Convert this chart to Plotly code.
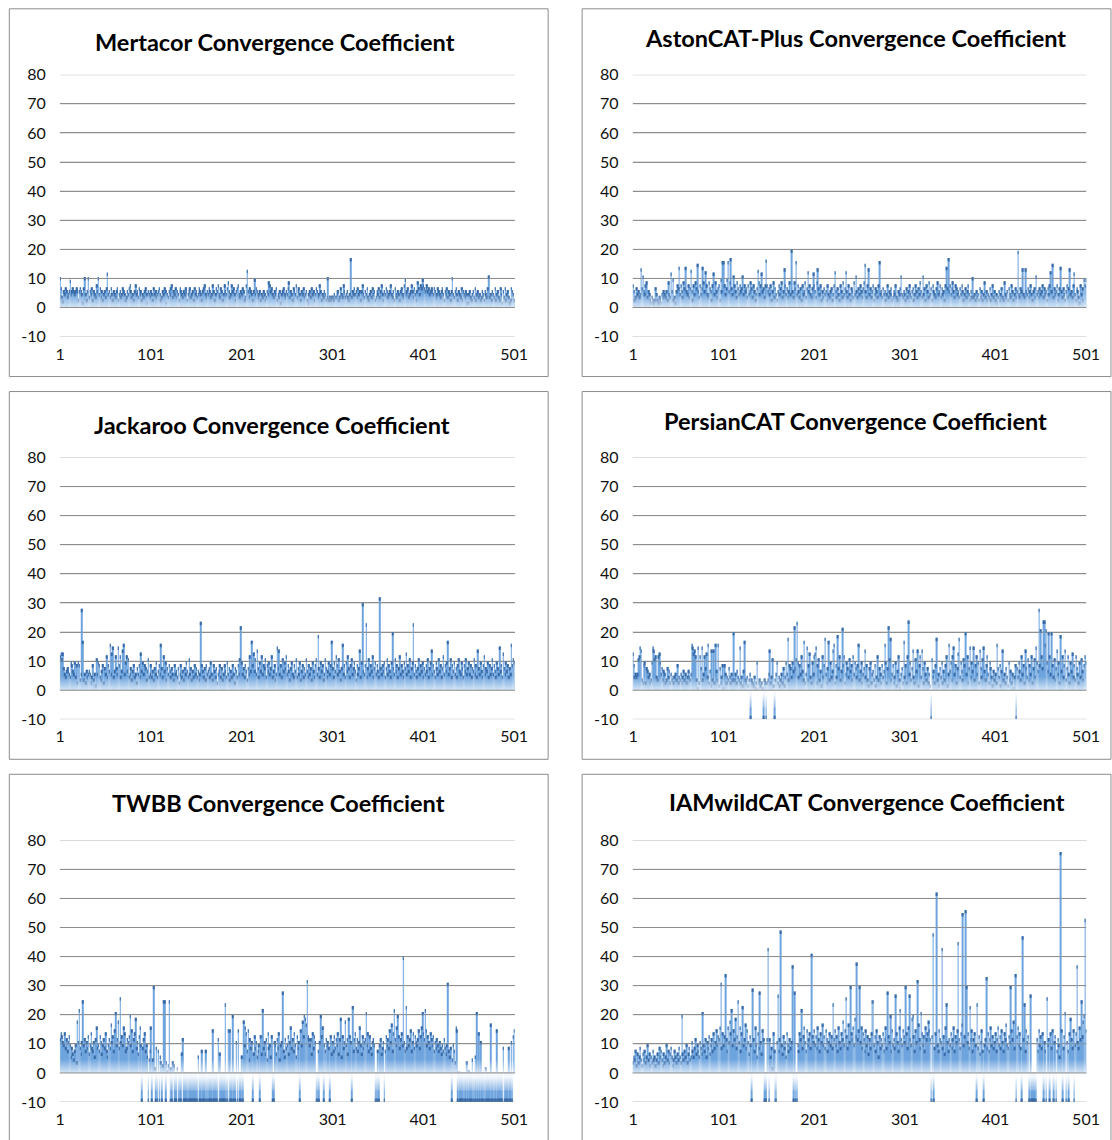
import plotly.graph_objects as go

W, H = 1112, 1140

x_tick_vals = [1, 101, 201, 301, 401, 501]
x_tick_text = ["1", "101", "201", "301", "401", "501"]
y_tick_vals = [-10, 0, 10, 20, 30, 40, 50, 60, 70, 80]
y_tick_text = ["-10", "0", "10", "20", "30", "40", "50", "60", "70", "80"]

iterations = list(range(1, 502))

titles = [
    "Mertacor Convergence Coefficient",
    "AstonCAT-Plus Convergence Coefficient",
    "Jackaroo Convergence Coefficient",
    "PersianCAT Convergence Coefficient",
    "TWBB Convergence Coefficient",
    "IAMwildCAT Convergence Coefficient",
]

mertacor = [
    10.5,7,4,2.5,6,5,7,6,4,5,6,9.5,5,6,7,6,5,6,7,6,3,6,7,6,5,
    2,7,10.5,5,3,6,10.5,4,6,5,7,3,6,5,4,8,6,10.5,5,7,4,6,3,5,6,
    4,7,12,5,6,4,7,5,3,6,5,4,6,7,3,5,6,4,5,7,6,5,3,4,6,
    5,7,8,6,4,5,3,6,8,5,6,4,7,5,6,3,5,4,6,7,5,2,6,5,4,
    6,5,3,7,5,6,4,5,6,7,5,3,4,6,5,7,6,2,5,4,6,5,7,8,4,
    6,5,7,4,6,5,3,7,6,5,4,6,5,7,6,3,5,6,7,4,5,6,3,7,5,
    6,4,5,7,6,5,3,6,7,8,5,4,6,5,7,6,4,5,8,6,3,5,7,6,8,
    5,4,7,6,3,5,8,6,5,7,9,6,4,5,8,6,7,5,3,6,7,8,5,4,6,
    5,7,6,3,4,8,13,6,4,7,6,5,3,6,10,5,7,6,4,5,6,3,5,4,6,
    5,3,4,6,5,9,8,6,7,5,4,6,5,7,3,5,4,6,2,5,6,7,5,4,6,
    5,7,9,4,6,5,3,7,6,5,8,4,6,7,5,3,6,5,7,4,5,6,3,2,5,
    6,4,7,5,6,3,5,7,6,4,5,8,6,3,5,4,6,5,3,4,10.5,3,4,3,4,
    4,3,5,4,4,5,6,3,4,7,5,4,8,6,4,5,6,4,3,5,17,4,6,5,7,
    5,6,4,7,5,6,3,6,8,5,4,6,5,7,4,3,5,6,4,7,5,6,3,4,6,
    5,7,4,6,8,5,3,6,5,7,6,4,5,6,8,5,4,6,3,7,5,4,6,5,3,
    6,7,5,4,8,10,5,6,7,4,5,6,8,6,4,7,5,3,6,9,7,5,8,7,10,
    8,7,6,7,8,6,7,5,6,7,6,5,7,6,4,5,7,6,5,4,6,7,5,3,6,
    5,7,4,6,5,3,6,10.5,5,4,6,7,5,3,6,5,4,7,3,6,5,4,6,5,2,
    5,6,4,3,5,6,4,7,3,5,6,4,5,3,4,6,5,3,6,5,4,7,11,4,5,
    3,6,5,4,7,3,5,6,4,3,7,5,2,6,4,7,3,5,6,4,2,3,7,6,5,
    3,
]

astoncat_plus = [
    8,6,3,4,7,5,6,4,5,13.5,7,11,6,5,8,9,4,6,5,3,2,4,3,2,3,
    7,5,3,2,4,3,2,5,4,6,5,4,6,3,9,5,4,12,6,10,3,4,2,6,8,
    7,14,5,8,6,4,9,7,14,6,5,8,4,7,13,6,3,8,5,9,7,15,6,4,8,
    5,7,14,9,6,12.5,8,5,4,9,7,6,3,8,12,5,9,6,4,7,8,3,10,6,16,
    16,8,5,7,10,16,6,9,17,7,5,11,8,6,4,9,7,5,8,6,7,11,5,8,6,
    7,4,8,5,6,9,7,4,8,6,3,5,7,13,9,5,8,12,6,7,4,8,16.5,8,6,
    7,5,8,3,6,9,4,7,5,3,6,8,5,7,9,4,6,13.5,8,5,7,4,6,9,5,
    20,6,4,9,7,16,5,8,6,4,7,3,8,5,6,9,4,7,12.5,6,8,5,4,7,12,
    8,6,4,9,13.5,7,5,8,3,6,4,7,5,6,3,8,5,4,6,7,3,5,8,12.5,6,
    4,7,5,3,8,6,4,9,5,7,12.5,6,4,8,5,3,7,6,4,9,5,11,6,4,7,
    5,8,6,4,7,9,15,6,4,8,13.5,5,7,4,6,8,3,5,7,6,4,8,16,5,6,
    4,7,5,6,3,5,8,4,6,5,7,3,4,6,5,8,4,3,6,5,7,11,5,4,6,
    5,3,7,4,6,8,5,4,6,7,3,5,8,6,4,7,5,9,6,4,11,5,7,3,8,
    6,4,9,5,7,3,8,6,5,4,7,9,5,6,8,4,7,5,6,3,8,14,7,17,6,
    8,5,7,9,6,4,8,7,5,6,4,7,5,8,6,3,5,7,4,6,8,5,3,6,4,
    10.5,4,5,3,6,4,5,3,7,4,6,3,5,9,4,6,3,5,4,7,3,5,8,4,6,
    3,5,2,4,6,3,5,7,4,3,9,5,4,6,3,7,5,4,8,6,3,5,7,4,6,
    19.5,5,4,7,6,13.5,5,4,13.5,6,5,7,4,6,8,5,3,6,7,4,11,5,6,4,7,
    5,6,8,4,7,5,6,3,7,5,8,12.5,6,15,4,7,5,6,8,3,5,7,14,6,4,
    7,5,3,6,8,4,7,13.5,5,6,4,8,12,5,3,7,6,4,2,8,5,7,3,10,8,
    10,
]

jackaroo = [
    12,13,11,13,8,6,5,7,8,7,6,5,10,9,7,6,10,5,9,3,10,9,4,6,28,
    17,4,6,3,7,5,6,7,6,3,5,9,4,6,2,11,6,10,9,5,4,7,9,3,8,
    6,12,5,9,7,16,6,13,15,5,7,12,8,6,15,9,12,5,7,14,16,6,10,12,7,
    11,5,6,8,4,7,9,5,6,3,8,6,9,5,13,7,10,6,9,8,4,7,11,5,6,
    9,5,7,4,8,6,10,5,7,9,6,16,8,5,12,7,10,4,8,6,9,7,5,8,6,
    4,9,6,7,5,8,3,6,9,5,7,4,8,6,10,7,5,11,6,8,4,7,5,9,6,
    8,5,7,4,6,23.5,9,7,5,8,4,9,6,7,8,5,10,6,4,9,7,5,8,3,6,
    7,9,5,8,4,6,9,7,5,10,6,8,4,7,5,9,6,3,8,7,5,9,6,11,22,
    10,6,8,5,9,7,4,8,6,12,7,17,9,13,7,11,6,14,8,5,10,7,12,6,9,
    8,11,5,9,7,10,6,8,12,5,7,9,4,6,15,8,14,6,9,5,11,7,10,8,12,
    6,9,7,4,8,10,6,5,9,7,11,5,8,6,10,4,7,9,5,8,6,11,7,5,9,
    6,8,4,10,7,5,9,11,6,19,8,5,10,7,9,4,6,11,8,5,7,10,6,9,17,
    8,5,10,7,12,9,6,11,7,4,8,16,6,9,5,10,7,12,8,5,9,11,6,8,10,
    7,4,9,6,8,14,5,10,30,7,6,9,23,5,8,11,6,9,7,12,5,8,10,6,9,
    7,5,32,8,6,9,7,10,5,8,11,6,9,7,5,10,20,8,6,11,7,9,5,8,12,
    6,9,7,5,10,8,13,6,9,7,11,5,8,10,23,6,9,7,5,8,11,6,9,7,10,
    5,8,6,9,7,11,5,8,10,14,6,9,7,5,10,8,6,11,7,9,5,8,12,6,9,
    7,10,17,6,8,11,5,9,7,10,6,8,5,9,11,7,6,10,8,5,9,7,11,6,8,
    10,6,9,5,8,7,11,6,9,5,14,8,6,10,7,5,9,12,6,8,7,10,5,9,6,
    8,11,6,9,7,5,10,8,6,15,7,9,5,13,8,6,10,7,9,5,8,6,16,9,11,
    10,
]

persiancat = [
    13,9,5,6,5,6,11,12,15,14,4,3,9,10,3,8,7,5,6,3,4,10,15,14,11,
    12,5,4,12,13,10,6,8,4,7,6,3,4,8,5,7,3,6,4,5,3,5,6,4,9,
    3,5,4,6,3,5,7,4,6,3,5,7,5,4,6,16,15,13,14,12,4,1,15,3,12,
    8,15,4,6,12,8,13,5,16,3,7,2,14,4,14,3,16,7,4,16,2,8,3,5,9,
    1,9,6,3,5,4,8,5,3,6,4,20,4,6,3,7,5,4,15,3,5,2,7,17,4,
    3,5,2,4,6,-10,4,3,2,5,1,3,10,0.5,3,4,2,3,1,-10,4,3,-10,3,4,
    6,14,3,5,11,2,-10,4,6,10,3,5,2,4,6,3,8,2,5,10,6,18,4,9,8,
    5,10,7,22,8,11,23.5,10,5,9,6,12,7,4,17,3,6,15,4,9,13,5,3,10,6,
    12,13,15,3,9,11,4,7,2,12,5,9,18,6,3,8,17,4,10,5,7,14,16,3,9,
    5,19,8,12,4,7,21.5,9,12,3,6,10,8,5,11,7,9,4,12,6,10,8,5,9,16,
    4,7,10,3,6,8,14,5,9,4,2,8,10,3,6,7,4,9,2,5,12,4,8,6,3,
    9,5,7,16,10,3,8,22,11,18,4,6,9,3,5,10,2,7,12,4,1,6,8,3,17,
    5,9,3,12,24,6,10,4,8,14,5,3,11,7,14,2,9,12,5,14,8,3,10,6,4,
    8,3,6,2,-10,11,5,7,3,9,18,4,6,2,8,5,10,3,7,4,9,12,2,6,16,
    7,10,4,12,15,6,9,3,8,13,18,5,10,7,4,11,9,20,6,12,3,8,15,5,10,
    7,15,4,9,12,6,10,3,14,8,5,11,15,7,4,9,12,6,3,10,8,5,2,7,4,
    6,3,16,8,5,9,2,7,14,4,6,3,8,5,2,10,4,7,3,6,1,5,9,-10,8,
    5,10,7,4,12,6,9,3,14,8,5,11,4,9,6,12,3,8,11,5,15,10,7,28,9,
    21,12,8,24,24,16,21,10,7,20,12,6,20,9,5,11,4,8,14,6,10,3,19,7,12,
    5,9,14,4,8,12,6,3,10,7,13,5,9,4,12,8,6,3,10,5,11,7,4,9,12,
    10,
]

twbb = [
    12,14,13,11,10,14,9,12,8,11,13,10,6,9,7,5,8,10,4,18,11,22,9,7,11,
    25,10,12,8,11,9,13,7,10,14,9,8,11,6,12,16,9,10,8,13,11,7,10,12,9,
    14,8,6,10,12,9,17,11,13,8,15,21,10,12,18,9,26,11,13,10,16,14,8,9,12,
    11,13,20,10,15,8,12,14,19,9,11,7,13,16,10,-10,9,12,14,8,10,6,-10,5,8,
    16,-10,5,30,2,-10,9,-10,8,-10,6,4,-10,3,25,25,-10,4,1,3,25,-10,2,-10,4,
    3,-10,-10,-10,2,-10,-10,-10,-10,7,12,-10,-10,-10,-10,-10,-10,-10,-10,-10,-10,-10,-10,-10,-10,
    -10,-10,6,-10,-10,-10,8,-10,-10,-10,8,-10,-10,-10,-10,-10,-10,-10,15,-10,-10,-10,-10,-10,12,
    -10,7,-10,-10,-10,-10,-10,24,-10,-10,15,-10,15,-10,-10,20,-10,-10,-10,11,-10,15,-10,-10,-10,
    6,-10,18,10,16,14,8,15,5,12,9,11,-10,7,13,9,11,6,8,10,-10,13,7,22,9,
    11,7,12,5,14,9,10,6,13,-10,-10,11,10,7,12,9,14,5,10,11,28,8,6,12,9,
    10,13,7,11,16,9,12,8,14,10,6,13,9,11,-10,15,10,18,13,20,19,17,32,13,12,
    10,12,7,14,9,13,11,-10,-10,8,-10,11,20,13,16,-10,10,8,12,10,11,9,-10,13,7,
    11,8,13,9,12,10,14,7,12,19,6,13,9,11,18,10,12,7,19,13,11,-10,23,8,12,
    14,9,12,8,11,16,10,7,13,9,11,12,21,10,14,8,13,9,7,11,12,10,-10,-10,-10,
    8,-10,10,12,7,9,11,-10,8,13,10,12,9,15,11,17,8,14,22,12,10,16,20,13,9,
    12,14,10,40,11,8,23,9,13,10,12,15,8,11,14,9,13,11,10,12,15,9,13,16,21,
    14,12,22,15,10,13,11,9,14,12,10,13,8,11,9,12,10,8,11,9,7,10,8,12,9,
    7,10,31,8,6,9,-10,5,10,8,4,16,15,-10,0.5,-10,-10,-10,-10,-10,-10,-10,-10,4,-10,
    1,-10,-10,-10,5,-10,-10,6,-10,21,-10,14,-10,11,-10,-10,-10,-10,-10,2,-10,-10,-10,-10,17,
    -10,-10,-10,-10,-10,-10,15,-10,-10,-10,-10,-10,-10,9,-10,-10,-10,-10,-10,9,-10,-10,11,-10,13,
    15,
]

iamwildcat = [
    4,6,5,8,3,7,4,6,9,5,3,7,5,8,4,6,10,5,7,3,6,4,8,5,6,
    3,5,7,4,9,6,8,5,3,7,4,6,10,5,8,4,7,9,6,3,5,8,6,4,7,
    5,9,6,4,20,7,5,8,6,10,4,7,9,5,6,11,8,6,9,12,7,10,8,6,11,
    9,7,21,10,8,12,6,11,9,13,7,10,12,8,14,9,11,15,10,13,12,16,31,9,14,
    10,13,34,12,8,16,11,18,14,22,10,15,12,19,9,13,25,11,16,8,14,23,10,12,17,
    9,15,11,7,13,10,-10,29,12,8,16,10,6,14,9,28,11,7,15,12,-10,-10,-10,12,43,
    -10,12,6,9,2,14,8,-10,-10,11,27,8,12,49,10,7,13,9,11,6,14,10,8,12,9,
    11,37,-10,28,-10,-10,-10,10,8,14,12,22,9,13,16,11,8,15,10,12,14,9,41,13,11,
    15,10,13,9,16,12,8,14,11,17,10,13,9,15,12,8,11,14,10,13,9,24,12,15,10,
    13,8,16,11,9,14,12,18,10,15,26,13,9,17,11,30,14,12,16,10,19,13,38,12,15,
    30,11,16,9,14,12,8,15,10,13,7,12,9,14,25,25,10,13,8,15,11,6,13,9,12,
    10,14,8,12,16,9,28,13,11,20,8,15,10,12,9,27,14,11,8,16,22,12,10,15,13,
    11,30,14,9,16,27,12,10,19,20,13,8,15,11,32,17,12,9,21,14,10,13,8,16,12,
    14,18,15,12,-10,13,48,-10,9,14,62,10,8,15,12,11,43,9,13,7,16,24,11,8,12,
    10,14,9,12,16,8,13,11,15,45,12,9,14,17,55,10,13,56,30,11,14,9,23,12,15,
    8,12,14,10,-10,24,9,13,7,11,15,8,-10,10,12,33,9,14,8,12,16,10,13,9,11,
    14,8,12,16,10,13,9,15,11,8,14,12,17,10,9,13,11,30,15,12,18,9,34,-10,13,
    16,10,14,9,-10,47,12,24,8,15,11,13,-10,-10,27,-10,-10,-10,-10,-10,-10,12,8,15,10,
    13,9,14,-10,11,8,-10,26,10,12,-10,14,9,15,-10,11,13,-10,8,12,10,6,76,15,-10,
    9,13,21,-10,11,8,-10,14,19,12,9,15,-10,10,14,37,11,9,16,12,25,13,18,20,53,
    15,
]

series = [mertacor, astoncat_plus, jackaroo, persiancat, twbb, iamwildcat]

# ---------- geometry: target pixel positions, corrected for the capture ----------
SX, AX = 0.985, 3.7
SY, AY = 0.984, 9.2


def px(p):
    return (p - AX) / SX


def py(p):
    return (p - AY) / SY


def fx(p):
    return px(p) / W


def fy(p):
    return 1 - py(p) / H


col_plot = [(59.5, 514.5), (632.5, 1086.5)]
row_plot = [(74.0, 336.0), (457.0, 719.0), (840.0, 1102.0)]
box_x = [(9, 548), (582, 1111)]
box_y = [(8, 376), (391, 759), (774, 1142)]
title_pos = [(275, 41), (855, 37), (272, 424), (855, 420), (278, 803), (867, 802)]

BAR = "#6ea4de"
CAP = "#3a6aa6"
GRID = "#8e8e8e"
GRID_OVER = "rgba(142,142,142,0.6)"
FONT = "Lato, 'Open Sans', sans-serif"

fig = go.Figure()
layout = dict(
    width=W, height=H,
    margin=dict(l=0, r=0, t=0, b=0),
    paper_bgcolor="white", plot_bgcolor="white",
    showlegend=False, barmode="overlay",
    font=dict(family=FONT, color="#111111"),
)
shapes = []
annotations = []
cap_h = 1.2
bar_w = 0.66

for i, vals in enumerate(series):
    n = i + 1
    col = i % 2
    row = i // 2
    xa = "x" if n == 1 else f"x{n}"
    ya = "y" if n == 1 else f"y{n}"
    xkey = "xaxis" if n == 1 else f"xaxis{n}"
    ykey = "yaxis" if n == 1 else f"yaxis{n}"

    fig.add_trace(go.Bar(
        x=iterations, y=vals, xaxis=xa, yaxis=ya, width=bar_w,
        marker=dict(color=BAR, line=dict(width=0)), hoverinfo="skip",
    ))
    cap_base = [(v - min(cap_h, v)) if v >= 0 else v for v in vals]
    cap_len = [min(cap_h, v) if v >= 0 else cap_h for v in vals]
    fig.add_trace(go.Bar(
        x=iterations, y=cap_len, base=cap_base, xaxis=xa, yaxis=ya, width=bar_w,
        marker=dict(color=CAP, line=dict(width=0)), hoverinfo="skip",
    ))
    # white fade toward the baseline (Excel-like gradient fill)
    fig.add_trace(go.Scatter(
        x=[0.5, 501.5], y=[6, 6], xaxis=xa, yaxis=ya, mode="lines",
        line=dict(width=0), fill="tozeroy",
        fillgradient=dict(type="vertical", start=0, stop=6,
                          colorscale=[[0, "rgba(255,255,255,0.92)"],
                                      [0.45, "rgba(255,255,255,0.5)"],
                                      [1, "rgba(255,255,255,0)"]]),
        hoverinfo="skip",
    ))
    fig.add_trace(go.Scatter(
        x=[0.5, 501.5], y=[-6, -6], xaxis=xa, yaxis=ya, mode="lines",
        line=dict(width=0), fill="tozeroy",
        fillgradient=dict(type="vertical", start=-6, stop=0,
                          colorscale=[[0, "rgba(255,255,255,0)"],
                                      [0.55, "rgba(255,255,255,0.5)"],
                                      [1, "rgba(255,255,255,0.92)"]]),
        hoverinfo="skip",
    ))

    x0, x1 = col_plot[col]
    yt, yb = row_plot[row]
    layout[xkey] = dict(
        domain=[fx(x0), fx(x1)], anchor=ya,
        range=[0.5, 501.5], showgrid=False, zeroline=False, showline=False,
        ticks="", tickmode="array", tickvals=x_tick_vals, ticktext=x_tick_text,
        tickfont=dict(size=16, family=FONT, color="#111111"),
        ticklabelstandoff=6,
    )
    layout[ykey] = dict(
        domain=[fy(yb), fy(yt)], anchor=xa,
        range=[-10, 80], showgrid=True, gridcolor=GRID, gridwidth=1,
        zeroline=False, showline=False, ticks="",
        tickmode="array", tickvals=y_tick_vals, ticktext=y_tick_text,
        tickfont=dict(size=16, family=FONT, color="#111111"),
        ticklabelstandoff=13,
    )

    # grid lines showing through the thin bars
    for gv in y_tick_vals:
        shapes.append(dict(type="line", xref=f"{xa} domain", yref=ya,
                           x0=0, x1=1, y0=gv, y1=gv,
                           line=dict(color=GRID if gv == 0 else GRID_OVER, width=1),
                           layer="above"))
    bx0, bx1 = box_x[col]
    by0, by1 = box_y[row]
    shapes.append(dict(type="rect", xref="paper", yref="paper",
                       x0=fx(bx0), x1=fx(bx1), y0=fy(by1), y1=fy(by0),
                       line=dict(color="#8c8c8c", width=1), layer="below"))
    tx, ty = title_pos[i]
    annotations.append(dict(
        text=f"<b>{titles[i]}</b>", xref="paper", yref="paper",
        x=fx(tx), y=fy(ty), xanchor="center", yanchor="middle",
        showarrow=False, font=dict(size=23.5, family=FONT, color="#000000"),
    ))

layout["shapes"] = shapes
layout["annotations"] = annotations
fig.update_layout(**layout)
fig.write_html(
    "out.html",
    config={"responsive": False, "displayModeBar": False},
    post_script="document.body.style.margin='0';document.body.style.padding='0';"
                "document.documentElement.style.overflow='hidden';",
)
